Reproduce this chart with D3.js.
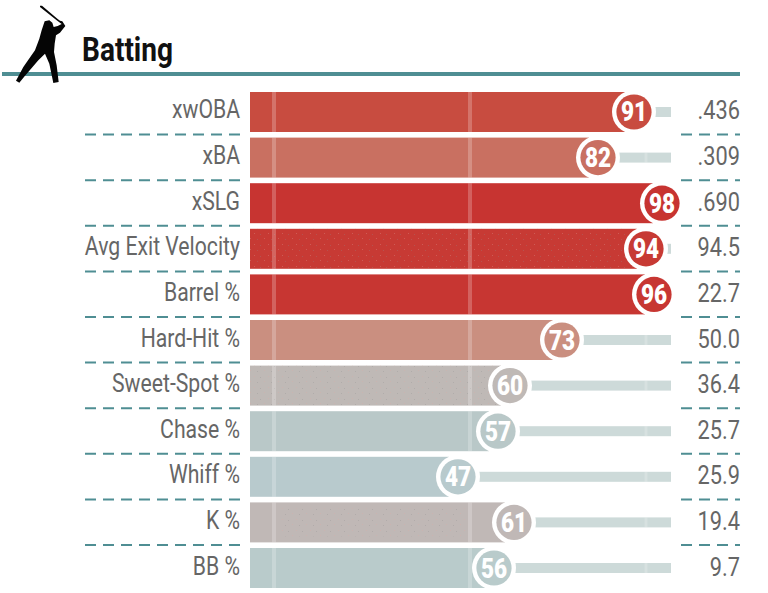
<!DOCTYPE html>
<html><head><meta charset="utf-8">
<script src="https://cdn.jsdelivr.net/npm/d3@7"></script>
<style>html,body{margin:0;padding:0;background:#fff}svg{display:block}text{font-family:Roboto,sans-serif}</style>
</head><body><div id="chart"></div>
<script>
const metrics=["xwOBA","xBA","xSLG","Avg Exit Velocity","Barrel %","Hard-Hit %","Sweet-Spot %","Chase %","Whiff %","K %","BB %"];
const percentiles=[91,82,98,94,96,73,60,57,47,61,56];
const rawValues=[".436",".309",".690","94.5","22.7","50.0","36.4","25.7","25.9","19.4","9.7"];
const colors=["#c84c40","#c97061","#c73431","#c73a34","#c73632","#ca8f80","#bfb9b6","#b9c8c8","#b8cacd","#c0b8b6","#b9cbcb"];
const stippled=["Avg Exit Velocity","Sweet-Spot %","K %"];
const guideMarks=[1,50];
const trackMark=94;
const title="Batting";

const W=768,H=593;
const x=d3.scaleLinear().domain([-5,100.25]).range([250,671]);
const y=d3.scaleBand().domain(metrics).range([92,588]).paddingInner(0.123).paddingOuter(0).align(0);
const svg=d3.select("#chart").append("svg").attr("width",W).attr("height",H);
const defs=svg.append("defs");
const pat=defs.append("pattern").attr("id","stip").attr("width",14).attr("height",11).attr("patternUnits","userSpaceOnUse");
[[2,2,"#e3a9a3"],[8,3,"#8e8e8e"],[5,8,"#8e8e8e"],[12,7,"#e3a9a3"]].forEach(d=>pat.append("rect").attr("x",d[0]).attr("y",d[1]).attr("width",1).attr("height",1).attr("fill",d[2]).attr("opacity",.3));

// header
svg.append("rect").attr("x",2).attr("y",72).attr("width",738).attr("height",4).attr("fill","#4f8e93");
svg.append("path").attr("transform","translate(10,2) scale(.3333)").attr("fill","#050505")
 .attr("d","M90,11 L96,11 L142,50 L150,56 L157,58 L166,72 L150,92 L138,100 L134,125 L132,150 L140,190 L146,240 L130,243 L118,185 L105,155 L85,175 L42,225 L28,242 L18,236 L40,195 L75,145 L88,110 L95,85 L100,70 L104,58 L118,55 L127,62 L131,75 L143,72 L155,66 L140,55 L90,15 Z");
svg.append("text").attr("transform","translate(82,61) scale(.85,1)").attr("font-size",33).attr("font-weight",700).attr("fill","#111").text(title);

const rows=svg.selectAll("g.row").data(metrics).join("g").attr("class","row");
const h=y.bandwidth();
const idx=(d)=>metrics.indexOf(d);
const cx=d=>x(percentiles[idx(d)]);

// separators
rows.filter((d,i)=>i>0).each(function(d){
  const g=d3.select(this),yy=y(d)-3;
  g.append("line").attr("x1",85).attr("x2",240).attr("y1",yy).attr("y2",yy).attr("stroke","#4f8e93").attr("stroke-width",2).attr("stroke-dasharray","11 7");
  g.append("line").attr("x1",681).attr("x2",740).attr("y1",yy).attr("y2",yy).attr("stroke","#4f8e93").attr("stroke-width",2).attr("stroke-dasharray","11 7");
});
// tracks
rows.append("rect").attr("x",d=>cx(d)).attr("width",d=>Math.max(0,x.range()[1]-cx(d))).attr("y",d=>y(d)+h/2-5).attr("height",10).attr("fill","#cddad9");
rows.filter(d=>cx(d)+22<x(trackMark)).append("rect").attr("x",x(trackMark)-1.5).attr("width",3).attr("y",d=>y(d)+h/2-5).attr("height",10).attr("fill","#fff").attr("opacity",.2);
// bars
rows.append("rect").attr("x",x.range()[0]).attr("y",d=>y(d)).attr("height",h).attr("width",d=>x(percentiles[idx(d)]-2.25)-x.range()[0]).attr("fill",d=>colors[idx(d)]);
rows.filter(d=>stippled.includes(d)).append("rect").attr("x",d=>d==="K %"?282:x.range()[0]).attr("y",d=>y(d)+(d==="K %"?6:0)).attr("height",d=>d==="K %"?h-12:h)
 .attr("width",d=>d==="K %"?184:x(percentiles[idx(d)]-2.25)-x.range()[0]).attr("fill","url(#stip)");
// guides on bars
guideMarks.forEach(m=>{
  rows.filter(d=>x(percentiles[idx(d)]-2.25)>x(m)).append("rect").attr("x",x(m)-2).attr("width",4).attr("y",d=>y(d)).attr("height",h).attr("fill","#fff").attr("opacity",.22);
});
// circles
rows.append("circle").attr("cx",cx).attr("cy",d=>y(d)+h/2).attr("r",22).attr("fill","#fff");
rows.append("circle").attr("cx",cx).attr("cy",d=>y(d)+h/2).attr("r",17.6).attr("fill",d=>colors[idx(d)]);
rows.append("text").attr("transform",d=>`translate(${cx(d)},${y(d)+h/2+9.5}) scale(.82,1)`).attr("text-anchor","middle").attr("font-size",27.5).attr("font-weight",900).attr("fill","#fff").text(d=>percentiles[idx(d)]);
// labels
rows.append("text").attr("transform",d=>`translate(240,${y(d)+h/2+6.5}) scale(.848,1)`).attr("text-anchor","end").attr("font-size",25).attr("fill","#666").text(d=>d);
rows.append("text").attr("transform",d=>`translate(740,${y(d)+h/2+7.5}) scale(.87,1)`).attr("text-anchor","end").attr("font-size",25).attr("fill","#666").text(d=>rawValues[idx(d)]);
</script></body></html>
